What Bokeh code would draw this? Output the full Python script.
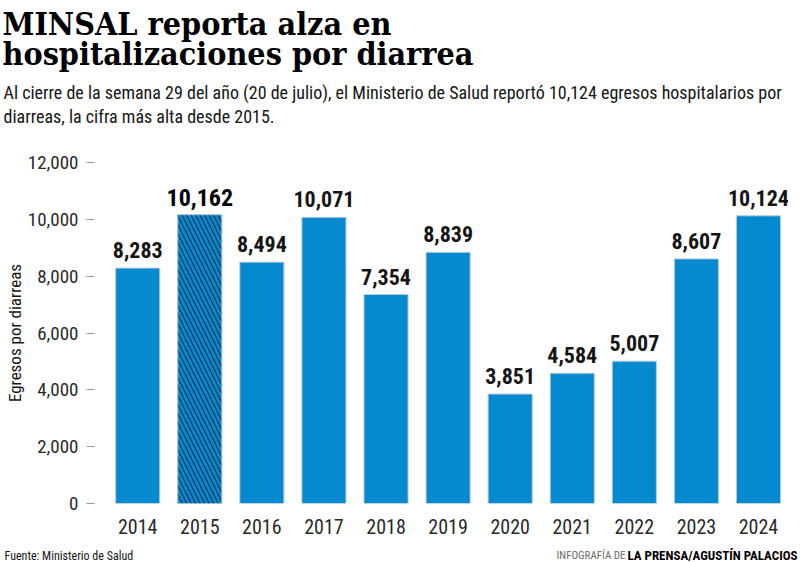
from bokeh.plotting import figure
from bokeh.layouts import column
from bokeh.models import ColumnDataSource, LabelSet, Label, FixedTicker, Range1d
from bokeh.core.properties import value
from bokeh.embed import file_html
from bokeh.resources import INLINE

# ---------------- data ----------------
years = ["2014", "2015", "2016", "2017", "2018", "2019", "2020", "2021", "2022", "2023", "2024"]
egresos = [8283, 10162, 8494, 10071, 7354, 8839, 3851, 4584, 5007, 8607, 10124]
highlight_year = "2015"
y_ticks = [0, 2000, 4000, 6000, 8000, 10000, 12000]

title_lines = ["MINSAL reporta alza en", "hospitalizaciones por diarrea"]
subtitle_lines = [
    "Al cierre de la semana 29 del año (20 de julio), el Ministerio de Salud reportó 10,124 egresos hospitalarios por",
    "diarreas, la cifra más alta desde 2015.",
]
y_label = "Egresos por diarreas"
source_note = "Fuente: Ministerio de Salud"
credit_prefix = "INFOGRAFÍA DE"
credit_name = "LA PRENSA/AGUSTÍN PALACIOS"

# ---------------- style / layout ----------------
BLUE = "#0589cf"
OUTLINE = "#b9c9d6"
HATCH = "#0e3354"
TEXT = "#151515"
GREY = "#6a6a6a"
COND = "Roboto Condensed, Liberation Sans Narrow, DejaVu Sans Condensed, Roboto"
SERIF = "DejaVu Serif Condensed, DejaVu Serif"

W = 800
HEAD_H, CHART_H, FOOT_H = 145, 395, 22
FRAME_L, FRAME_R = 94, 788
STEP = 62.08
x_start = -(137.2 - FRAME_L) / STEP
x_end = x_start + (FRAME_R - FRAME_L) / STEP


def drop_title(f):
    try:
        f.title = None
    except Exception:
        f.title.visible = False


def text_panel(h, y0):
    f = figure(width=W, height=h, output_backend="svg", toolbar_location=None,
               x_range=Range1d(0, W), y_range=Range1d(y0 + h, y0),
               x_axis_type=None, y_axis_type=None,
               min_border_left=0, min_border_right=0, min_border_top=0, min_border_bottom=0)
    drop_title(f)
    f.outline_line_color = None
    f.grid.visible = False
    f.frame_align = False
    return f


def label(f, text, X, Y, size, font=COND, style="normal", color=TEXT, align="left"):
    f.add_layout(Label(x=X, y=Y, text=text, text_font=font, text_font_size=size,
                       text_font_style=style, text_color=color, text_align=align,
                       text_baseline="alphabetic"))


# ---------------- header ----------------
head = text_panel(HEAD_H, 0)
label(head, title_lines[0], 2, 23, "32px", font=SERIF, style="bold", color="#000000")
label(head, title_lines[1], 2, 53, "32px", font=SERIF, style="bold", color="#000000")
label(head, subtitle_lines[0], 3, 92, "18px")
label(head, subtitle_lines[1], 3, 116, "18px")

# ---------------- chart ----------------
idx = list(range(len(years)))
src = ColumnDataSource(dict(x=idx, top=egresos))
hi = [i for i, y in enumerate(years) if y == highlight_year]
lo = [i for i, y in enumerate(years) if y != highlight_year]
src_hi = ColumnDataSource(dict(x=[idx[i] for i in hi], top=[egresos[i] for i in hi],
                               label=[f"{egresos[i]:,}" for i in hi]))
src_lo = ColumnDataSource(dict(x=[idx[i] for i in lo], top=[egresos[i] for i in lo],
                               label=[f"{egresos[i]:,}" for i in lo]))

FRAME_TOP, FRAME_BOT = 162, 503
p = figure(width=W, height=CHART_H, output_backend="svg", toolbar_location=None,
           x_range=Range1d(x_start, x_end), y_range=Range1d(0, 12000),
           min_border_left=FRAME_L, min_border_right=W - FRAME_R,
           min_border_top=FRAME_TOP - HEAD_H,
           min_border_bottom=HEAD_H + CHART_H - FRAME_BOT)
drop_title(p)
p.frame_align = False
p.outline_line_color = None
p.grid.grid_line_color = None

p.vbar(x="x", top="top", width=0.71, source=src, fill_color=BLUE,
       line_color=OUTLINE, line_width=1)
p.vbar(x="x", top="top", width=0.71, source=src_hi, fill_color=BLUE,
       line_color=OUTLINE, line_width=1, hatch_pattern="left_diagonal_line",
       hatch_color=HATCH, hatch_weight=1.2, hatch_scale=9)

xa = p.xaxis[0]
xa.ticker = FixedTicker(ticks=idx)
xa.major_label_overrides = {i: y for i, y in zip(idx, years)}
xa.axis_line_color = None
xa.major_tick_line_color = None
xa.minor_tick_line_color = None
xa.major_label_standoff = 9
xa.major_label_text_font = COND
xa.major_label_text_font_size = "20px"
xa.major_label_text_color = "#2a2a2a"

ya = p.yaxis[0]
ya.ticker = FixedTicker(ticks=y_ticks)
ya.major_label_overrides = {t: f"{t:,}" for t in y_ticks}
ya.axis_line_color = None
ya.major_tick_in = 0
ya.major_tick_out = 8
ya.major_tick_line_color = "#9a9a9a"
ya.minor_tick_line_color = None
ya.major_label_standoff = 8
ya.major_label_text_font = COND
ya.major_label_text_font_size = "19px"
ya.major_label_text_color = "#2a2a2a"
ya.axis_label = y_label
ya.axis_label_text_font = COND
ya.axis_label_text_font_size = "17px"
ya.axis_label_text_font_style = "normal"
ya.axis_label_text_color = TEXT
ya.axis_label_standoff = 0

p.add_layout(LabelSet(x="x", y="top", text="label", source=src_lo, y_offset=10,
                      text_align="center", text_baseline="alphabetic",
                      text_font=value(COND), text_font_style="bold",
                      text_font_size="22px", text_color=TEXT))
p.add_layout(LabelSet(x="x", y="top", text="label", source=src_hi, y_offset=9,
                      text_align="center", text_baseline="alphabetic",
                      text_font=value(COND), text_font_style="bold",
                      text_font_size="24px", text_color="#000000"))

# ---------------- footer ----------------
foot = text_panel(FOOT_H, HEAD_H + CHART_H)
label(foot, source_note, 4, 555, "12px")
label(foot, credit_name, 797, 555, "13px", style="bold", color="#000000", align="right")
label(foot, credit_prefix, 625, 555, "11px", color=GREY, align="right")

layout = column(head, p, foot, spacing=0)
open("out.html", "w").write(file_html(layout, INLINE))
